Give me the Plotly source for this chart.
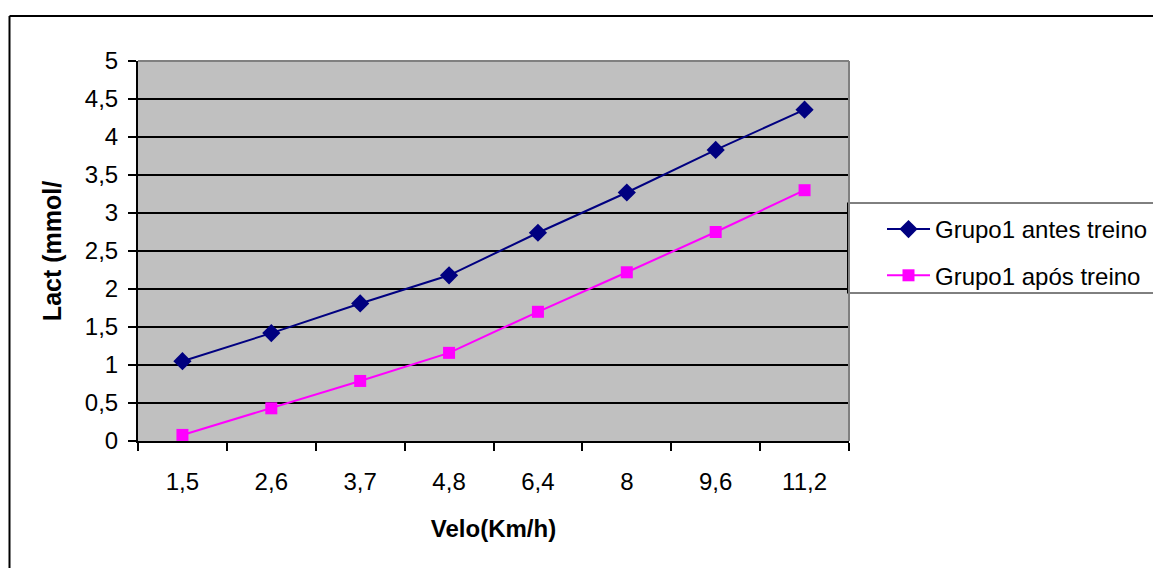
import plotly.graph_objects as go

categories = ["1,5", "2,6", "3,7", "4,8", "6,4", "8", "9,6", "11,2"]
antes = [1.05, 1.42, 1.81, 2.18, 2.74, 3.27, 3.83, 4.36]
apos = [0.08, 0.43, 0.79, 1.16, 1.70, 2.22, 2.75, 3.30]

W, H = 1153, 568
L, R, T, B = 138, 849, 61, 441
pw, ph = R - L, B - T

def px(x):
    return (x - L) / pw

def py(y):
    return (B - y) / ph

font = "Liberation Sans, Arial, sans-serif"

fig = go.Figure()
fig.add_trace(go.Scatter(
    x=categories, y=antes, mode="lines+markers", name="Grupo1 antes treino",
    line=dict(color="#000080", width=2),
    marker=dict(symbol="diamond", size=14, color="#000080"),
    legendgroup="a",
))
fig.add_trace(go.Scatter(
    x=categories, y=apos, mode="lines+markers", name="Grupo1 após treino",
    line=dict(color="#FF00FF", width=2),
    marker=dict(symbol="square", size=12, color="#FF00FF"),
    legendgroup="b",
))

def hline(x0, x1, y, color="black", width=2, layer="below"):
    return dict(type="line", xref="paper", yref="paper", x0=px(x0), x1=px(x1),
                y0=py(y), y1=py(y), line=dict(color=color, width=width), layer=layer)

def vline(x, y0, y1, color="black", width=2, layer="below"):
    return dict(type="line", xref="paper", yref="paper", x0=px(x), x1=px(x),
                y0=py(y0), y1=py(y1), line=dict(color=color, width=width), layer=layer)

fig.update_layout(
    width=W, height=H,
    margin=dict(l=L, r=W - R, t=T, b=H - B, autoexpand=False),
    paper_bgcolor="white",
    plot_bgcolor="#C0C0C0",
    separators=",.",
    font=dict(family=font, size=24, color="black"),
    showlegend=True,
    legend=dict(
        x=px(882), y=py(207), xanchor="left", yanchor="top",
        borderwidth=0, bgcolor="rgba(0,0,0,0)",
        font=dict(size=24), tracegroupgap=12, traceorder="grouped",
        itemwidth=43,
    ),
    xaxis=dict(
        type="category", range=[-0.5, 7.5], tickson="boundaries",
        showgrid=False, showline=True, linecolor="black", linewidth=2,
        ticks="outside", ticklen=8, tickwidth=2, tickcolor="black",
        ticklabelstandoff=18,
        title=dict(text="<b>Velo(Km/h)</b>", standoff=26, font=dict(size=24)),
        zeroline=False,
    ),
    yaxis=dict(
        range=[0, 5], dtick=0.5, tick0=0,
        showgrid=True, gridcolor="black", gridwidth=2,
        showline=True, linecolor="black", linewidth=2,
        ticks="outside", ticklen=8, tickwidth=2, tickcolor="black",
        ticklabelstandoff=5,
        title=dict(text="<b>Lact (mmol/</b>", standoff=16, font=dict(size=25)),
        zeroline=False,
    ),
    shapes=[
        hline(L, R, T, color="#808080", layer="above"),
        vline(R, B, T, color="#808080", layer="above"),
        # outer chart border (top and left visible)
        hline(9.5, 1160, 16),
        vline(9.5, 16, 580),
        # legend box (right edge beyond the canvas)
        dict(type="rect", xref="paper", yref="paper",
             x0=px(847), x1=px(1170), y0=py(293), y1=py(203),
             line=dict(width=0), fillcolor="white", layer="below"),
        hline(847, 1170, 203, width=1),
        hline(847, 1170, 293, width=1),
        vline(847.5, 203, 293, width=1),
    ],
)

fig.write_html("out.html")
